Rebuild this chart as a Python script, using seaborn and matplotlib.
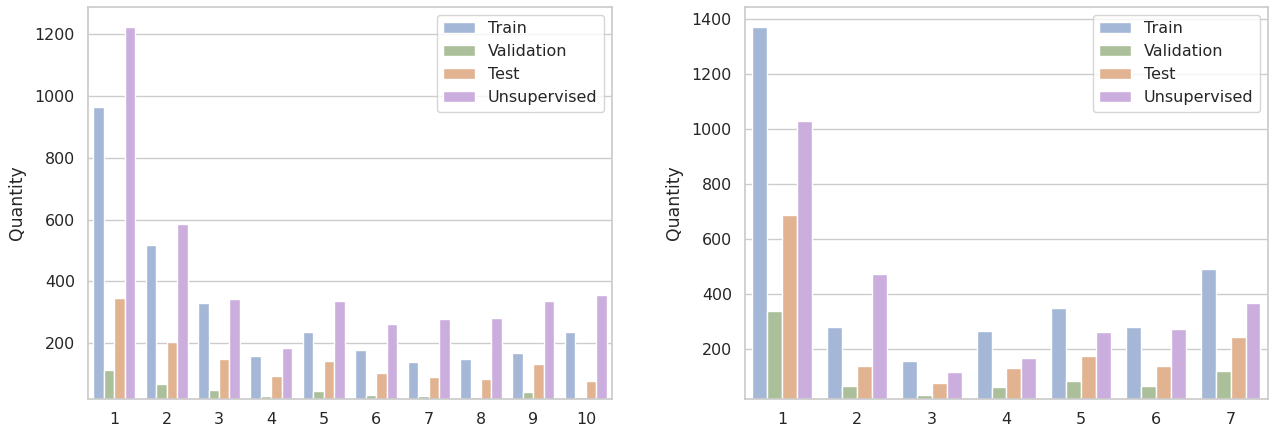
import matplotlib
matplotlib.use("Agg")
import matplotlib.pyplot as plt
import seaborn as sns
import pandas as pd

splits = ["Train", "Validation", "Test", "Unsupervised"]
colors = ["#a5b7d7", "#abbf9a", "#e2b390", "#cbaede"]

left_cats = ["1", "2", "3", "4", "5", "6", "7", "8", "9", "10"]
left_train = [965, 518, 329, 159, 236, 179, 140, 149, 170, 238]
left_val = [113, 67, 49, 30, 47, 34, 29, 27, 43, 25]
left_test = [346, 203, 150, 95, 143, 105, 90, 85, 134, 79]
left_unsup = [1222, 584, 343, 184, 337, 263, 279, 283, 337, 356]

right_cats = ["1", "2", "3", "4", "5", "6", "7"]
right_train = [1372, 282, 157, 267, 351, 282, 491]
right_val = [339, 68, 36, 64, 85, 68, 121]
right_test = [688, 140, 77, 134, 176, 140, 246]
right_unsup = [1028, 474, 117, 170, 263, 274, 367]


def long_df(cats, series):
    rows = []
    for name, vals in zip(splits, series):
        for c, v in zip(cats, vals):
            rows.append({"Class": c, "Split": name, "Quantity": v})
    return pd.DataFrame(rows)


sns.set_theme(style="whitegrid")
plt.rcParams["font.family"] = ["DejaVu Sans"]
plt.rcParams["xtick.labelsize"] = 11.4
plt.rcParams["ytick.labelsize"] = 11.4
plt.rcParams["axes.labelsize"] = 12.4
plt.rcParams["legend.fontsize"] = 11.5

fig = plt.figure(figsize=(12.7, 4.28), dpi=100)
ax1 = fig.add_axes([0.0693, 0.0678, 0.4126, 0.9159])
ax2 = fig.add_axes([0.5866, 0.0678, 0.4118, 0.9159])

df1 = long_df(left_cats, [left_train, left_val, left_test, left_unsup])
df2 = long_df(right_cats, [right_train, right_val, right_test, right_unsup])

for ax, df, ylim in [(ax1, df1, (20, 1287)), (ax2, df2, (20, 1443))]:
    sns.barplot(data=df, x="Class", y="Quantity", hue="Split", hue_order=splits,
                palette=colors, saturation=1, ax=ax, edgecolor="white", linewidth=1)
    ax.set_xlabel("")
    ax.set_ylabel("Quantity", labelpad=6)
    ax.set_ylim(*ylim)
    ax.legend(loc="upper right", title=None)

fig.savefig("out.png", dpi=100)
